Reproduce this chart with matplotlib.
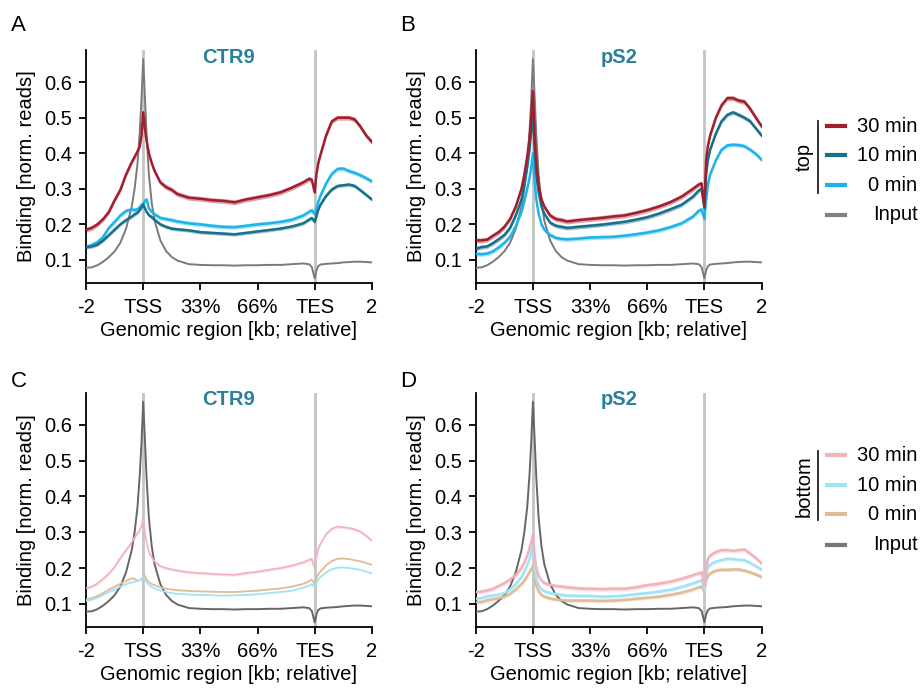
import matplotlib
matplotlib.use("Agg")
import matplotlib.pyplot as plt
from matplotlib.lines import Line2D

plt.rcParams['font.family'] = ['Liberation Sans', 'DejaVu Sans']
plt.rcParams['font.size'] = 14

# x grid in "metagene" units: 0 = -2 kb, 1 = TSS, 4 = TES, 5 = +2 kb
xpos = [0, 0.1, 0.2, 0.3, 0.4, 0.5, 0.6, 0.7, 0.8, 0.85, 0.9, 0.94, 0.97, 1.0,
        1.03, 1.06, 1.1, 1.15, 1.2, 1.3, 1.4, 1.5, 1.6, 1.8, 2.0, 2.2, 2.4, 2.6,
        2.8, 3.0, 3.2, 3.4, 3.6, 3.8, 3.9, 3.95, 4.0,
        4.03, 4.06, 4.1, 4.2, 4.3, 4.4, 4.5, 4.6, 4.7, 4.8, 4.9, 5.0]
tick_labels = ['-2', 'TSS', '33%', '66%', 'TES', '2']

inp = [0.078, 0.079, 0.085, 0.095, 0.108, 0.124, 0.148, 0.188, 0.25, 0.3, 0.37, 0.46, 0.55, 0.665,
       0.56, 0.45, 0.34, 0.26, 0.21, 0.155, 0.125, 0.108, 0.098, 0.088, 0.086, 0.085, 0.085, 0.084,
       0.085, 0.085, 0.086, 0.086, 0.088, 0.09, 0.088, 0.08, 0.048,
       0.07, 0.082, 0.087, 0.089, 0.09, 0.091, 0.093, 0.094, 0.095, 0.095, 0.094, 0.093]

# CTR9, top genes
ctr9_top_30 = [0.185, 0.19, 0.2, 0.215, 0.235, 0.268, 0.297, 0.34, 0.375, 0.39, 0.405, 0.42, 0.45, 0.515,
               0.47, 0.435, 0.4, 0.372, 0.35, 0.318, 0.305, 0.297, 0.285, 0.275, 0.272, 0.268, 0.266, 0.262,
               0.27, 0.276, 0.282, 0.29, 0.303, 0.318, 0.328, 0.325, 0.29,
               0.34, 0.37, 0.395, 0.45, 0.49, 0.5, 0.5, 0.5, 0.495, 0.475, 0.45, 0.432]
ctr9_top_10 = [0.136, 0.138, 0.143, 0.155, 0.17, 0.185, 0.2, 0.212, 0.222, 0.228, 0.233, 0.24, 0.248, 0.256,
               0.245, 0.235, 0.226, 0.22, 0.213, 0.2, 0.193, 0.188, 0.186, 0.183, 0.178, 0.176, 0.174, 0.172,
               0.176, 0.18, 0.184, 0.188, 0.194, 0.203, 0.213, 0.218, 0.207,
               0.222, 0.24, 0.255, 0.28, 0.298, 0.308, 0.31, 0.312, 0.308, 0.296, 0.283, 0.27]
ctr9_top_0 = [0.136, 0.142, 0.15, 0.165, 0.19, 0.207, 0.225, 0.238, 0.242, 0.24, 0.243, 0.248, 0.255, 0.258,
              0.265, 0.27, 0.245, 0.235, 0.228, 0.218, 0.215, 0.212, 0.208, 0.203, 0.2, 0.196, 0.193, 0.192,
              0.196, 0.2, 0.203, 0.207, 0.213, 0.225, 0.235, 0.24, 0.228,
              0.245, 0.262, 0.28, 0.315, 0.342, 0.356, 0.357, 0.35, 0.345, 0.338, 0.33, 0.321]

# pS2, top genes
ps2_top_30 = [0.155, 0.155, 0.157, 0.168, 0.178, 0.193, 0.215, 0.25, 0.3, 0.34, 0.39, 0.44, 0.5, 0.575,
              0.45, 0.37, 0.31, 0.27, 0.25, 0.225, 0.215, 0.212, 0.208, 0.212, 0.215, 0.218, 0.222, 0.225,
              0.232, 0.24, 0.25, 0.262, 0.278, 0.3, 0.312, 0.315, 0.25,
              0.38, 0.42, 0.45, 0.5, 0.535, 0.555, 0.555, 0.548, 0.545, 0.525, 0.5, 0.476]
ps2_top_10 = [0.131, 0.136, 0.138, 0.147, 0.158, 0.17, 0.19, 0.225, 0.27, 0.31, 0.36, 0.41, 0.46, 0.52,
              0.41, 0.34, 0.29, 0.25, 0.23, 0.205, 0.196, 0.193, 0.19, 0.193, 0.196, 0.199, 0.203, 0.207,
              0.213, 0.22, 0.23, 0.242, 0.255, 0.278, 0.295, 0.3, 0.245,
              0.34, 0.38, 0.41, 0.455, 0.49, 0.508, 0.515, 0.508, 0.5, 0.49, 0.47, 0.45]
ps2_top_0 = [0.117, 0.116, 0.118, 0.124, 0.135, 0.148, 0.165, 0.195, 0.235, 0.265, 0.3, 0.33, 0.36, 0.4,
             0.32, 0.27, 0.23, 0.2, 0.185, 0.17, 0.162, 0.159, 0.158, 0.16, 0.163, 0.164, 0.165, 0.168,
             0.172, 0.177, 0.183, 0.192, 0.203, 0.222, 0.238, 0.242, 0.215,
             0.27, 0.31, 0.34, 0.38, 0.41, 0.422, 0.424, 0.423, 0.42, 0.41, 0.398, 0.382]

# CTR9, bottom genes
ctr9_bot_30 = [0.143, 0.148, 0.157, 0.17, 0.185, 0.203, 0.228, 0.25, 0.272, 0.285, 0.297, 0.306, 0.318, 0.338,
               0.3, 0.272, 0.245, 0.23, 0.218, 0.205, 0.2, 0.196, 0.193, 0.188, 0.186, 0.184, 0.182, 0.181,
               0.186, 0.19, 0.195, 0.2, 0.207, 0.216, 0.223, 0.226, 0.197,
               0.23, 0.252, 0.268, 0.295, 0.31, 0.316, 0.314, 0.312, 0.308, 0.302, 0.29, 0.277]
ctr9_bot_10 = [0.108, 0.112, 0.117, 0.125, 0.133, 0.14, 0.148, 0.155, 0.16, 0.162, 0.164, 0.166, 0.17, 0.175,
               0.168, 0.16, 0.152, 0.147, 0.143, 0.137, 0.133, 0.13, 0.128, 0.126, 0.125, 0.124, 0.123, 0.124,
               0.125, 0.127, 0.13, 0.133, 0.137, 0.145, 0.151, 0.155, 0.145,
               0.158, 0.168, 0.175, 0.188, 0.197, 0.201, 0.202, 0.2, 0.198, 0.195, 0.19, 0.185]
ctr9_bot_0 = [0.112, 0.116, 0.122, 0.13, 0.14, 0.148, 0.156, 0.164, 0.171, 0.17, 0.165, 0.166, 0.17, 0.172,
              0.178, 0.168, 0.16, 0.155, 0.152, 0.146, 0.142, 0.14, 0.138, 0.136, 0.135, 0.134, 0.133, 0.133,
              0.135, 0.137, 0.14, 0.143, 0.148, 0.156, 0.163, 0.168, 0.155,
              0.17, 0.182, 0.19, 0.208, 0.22, 0.226, 0.227, 0.225, 0.222, 0.219, 0.214, 0.209]

# pS2, bottom genes
ps2_bot_30 = [0.133, 0.134, 0.137, 0.142, 0.15, 0.158, 0.168, 0.18, 0.2, 0.215, 0.235, 0.255, 0.272, 0.293,
              0.235, 0.2, 0.178, 0.165, 0.158, 0.153, 0.15, 0.148, 0.146, 0.143, 0.142, 0.141, 0.142, 0.142,
              0.146, 0.152, 0.156, 0.162, 0.17, 0.18, 0.185, 0.188, 0.15,
              0.2, 0.225, 0.235, 0.245, 0.25, 0.25, 0.248, 0.25, 0.252, 0.24, 0.228, 0.213]
ps2_bot_10 = [0.114, 0.116, 0.121, 0.123, 0.125, 0.13, 0.14, 0.155, 0.175, 0.19, 0.208, 0.225, 0.245, 0.265,
              0.205, 0.17, 0.152, 0.14, 0.135, 0.13, 0.127, 0.125, 0.123, 0.122, 0.122, 0.12, 0.121, 0.123,
              0.127, 0.13, 0.134, 0.139, 0.147, 0.157, 0.163, 0.166, 0.138,
              0.18, 0.2, 0.21, 0.218, 0.222, 0.226, 0.225, 0.223, 0.222, 0.214, 0.205, 0.196]
ps2_bot_0 = [0.105, 0.105, 0.11, 0.113, 0.115, 0.12, 0.128, 0.14, 0.155, 0.165, 0.177, 0.188, 0.197, 0.207,
             0.17, 0.15, 0.135, 0.125, 0.12, 0.115, 0.112, 0.11, 0.109, 0.109, 0.109, 0.108, 0.109, 0.111,
             0.114, 0.117, 0.12, 0.125, 0.131, 0.14, 0.146, 0.148, 0.133,
             0.165, 0.178, 0.185, 0.193, 0.195, 0.195, 0.196, 0.196, 0.193, 0.188, 0.182, 0.175]

time_labels = ['30 min', '10 min', '0 min']
top_colors = ['#a31d2d', '#17708c', '#1cb5ea']
bot_colors = ['#f2b3ba', '#9fe3f8', '#e0bb95']
top_input_color = '#7a7a7a'
bot_input_color = '#666666'
title_color = '#2b8097'

panels = [
    ('A', 'CTR9', [ctr9_top_30, ctr9_top_10, ctr9_top_0], top_colors, top_input_color, 1.8, [0.007, 0.005, 0.006]),
    ('B', 'pS2', [ps2_top_30, ps2_top_10, ps2_top_0], top_colors, top_input_color, 1.8, [0.007, 0.006, 0.006]),
    ('C', 'CTR9', [ctr9_bot_30, ctr9_bot_10, ctr9_bot_0], bot_colors, bot_input_color, 1.2, [0.004, 0.002, 0.002]),
    ('D', 'pS2', [ps2_bot_30, ps2_bot_10, ps2_bot_0], bot_colors, bot_input_color, 1.8, [0.006, 0.005, 0.005]),
]
positions = [[0.0933, 0.5916, 0.310, 0.336], [0.516, 0.5916, 0.310, 0.336],
             [0.0933, 0.0952, 0.310, 0.338], [0.516, 0.0952, 0.310, 0.338]]
letter_pos = [(0.012, 0.978), (0.434, 0.978), (0.012, 0.465), (0.434, 0.465)]

fig = plt.figure(figsize=(9.22, 6.93), dpi=100)

for (letter, name, series, cols, icol, lw, bands), pos, lp in zip(panels, positions, letter_pos):
    ax = fig.add_axes(pos)
    ax.axvline(1, color='#c4c4c4', lw=2, zorder=1)
    ax.axvline(4, color='#c4c4c4', lw=2, zorder=1)
    ax.plot(xpos, inp, color=icol, lw=1.4, zorder=3)
    for ys, c, b in zip(series[::-1], cols[::-1], bands[::-1]):
        lo = [v - b for v in ys]
        hi = [v + b for v in ys]
        ax.fill_between(xpos, lo, hi, color=c, alpha=0.4, lw=0, zorder=2)
        ax.plot(xpos, ys, color=c, lw=lw, zorder=4)
    ax.set_xlim(0, 5)
    ax.set_ylim(0.035, 0.69)
    ax.set_xticks(range(6))
    ax.set_xticklabels(tick_labels)
    ax.set_yticks([0.1, 0.2, 0.3, 0.4, 0.5, 0.6])
    ax.set_yticklabels(['0.1', '0.2', '0.3', '0.4', '0.5', '0.6'])
    for s in ['top', 'right']:
        ax.spines[s].set_visible(False)
    for s in ['left', 'bottom']:
        ax.spines[s].set_linewidth(1.3)
    ax.tick_params(direction='out', length=5, width=1.3, labelsize=14.5)
    ax.tick_params(axis='x', pad=6)
    ax.tick_params(axis='y', pad=5)
    ax.set_xlabel('Genomic region [kb; relative]', fontsize=14.5, labelpad=3)
    ax.set_ylabel('Binding [norm. reads]', fontsize=14.5, labelpad=6)
    ax.text(0.5, 1.01, name, transform=ax.transAxes, ha='center', va='top',
            fontsize=14.5, fontweight='bold', color=title_color)
    fig.text(lp[0], lp[1], letter, fontsize=16, va='top', ha='left')

# legends drawn by hand: right aligned labels with bracket and group name
def draw_legend(group, cols, icol, ys, bracket, label_y):
    entries = list(zip(time_labels, cols)) + [('Input', icol)]
    for (lab, c), y in zip(entries, ys):
        fig.add_artist(Line2D([0.897, 0.917], [y, y], color=c, lw=3, transform=fig.transFigure))
        fig.text(0.995, y, lab, ha='right', va='center', fontsize=14.5)
    fig.add_artist(Line2D([0.887, 0.887], bracket, color='#222222', lw=1.3, transform=fig.transFigure))
    fig.text(0.872, label_y, group, rotation=90, ha='center', va='center', fontsize=14.5)

draw_legend('top', top_colors, '#808080', [0.818, 0.776, 0.733, 0.690], [0.826, 0.722], 0.773)
draw_legend('bottom', bot_colors, '#777777', [0.343, 0.300, 0.258, 0.214], [0.349, 0.249], 0.299)

fig.savefig('out.png', dpi=100)
